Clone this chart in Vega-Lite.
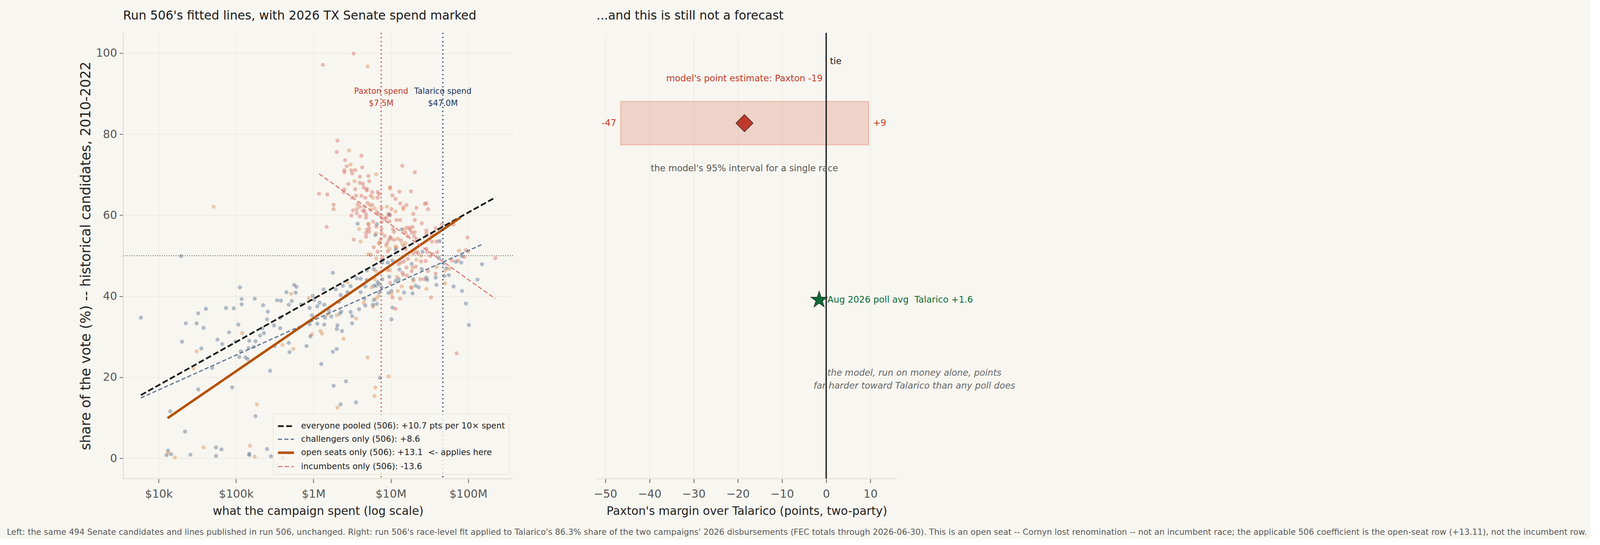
{
"$schema":"https://vega.github.io/schema/vega-lite/v6.json",
"background":"#f8f6f0",
"padding":{"left":17,"top":24,"right":8,"bottom":5},
"spacing":204,
"resolve":{"scale":{"color":"independent","fill":"independent","stroke":"independent","strokeDash":"independent","strokeWidth":"independent"},"legend":{"color":"independent","fill":"independent","stroke":"independent","strokeDash":"independent","strokeWidth":"independent"}},
"title":{"text":"Left: the same 494 Senate candidates and lines published in run 506, unchanged. Right: run 506's race-level fit applied to Talarico's 86.3% share of the two campaigns' 2026 disbursements (FEC totals through 2026-06-30). This is an open seat -- Cornyn lost renomination -- not an incumbent race; the applicable 506 coefficient is the open-seat row (+13.11), not the incumbent row.","orient":"bottom","anchor":"start","frame":"bounds","fontSize":21.1,"fontWeight":"normal","color":"#5a5a5a","dx":-185,"offset":29},
"datasets":{
"points":[
{"spend":1.95e4,"share":49.9,"group":"challenger"},
{"spend":5.89e3,"share":34.7,"group":"challenger"},
{"spend":2.24e4,"share":33.3,"group":"challenger"},
{"spend":3.24e4,"share":35.8,"group":"challenger"},
{"spend":4.07e4,"share":36.9,"group":"challenger"},
{"spend":3.09e4,"share":33.3,"group":"challenger"},
{"spend":3.8e4,"share":32.2,"group":"challenger"},
{"spend":2.0e4,"share":28.8,"group":"challenger"},
{"spend":3.09e4,"share":26.4,"group":"open seat"},
{"spend":3.55e4,"share":27.1,"group":"challenger"},
{"spend":2.82e4,"share":22.2,"group":"open seat"},
{"spend":4.9e4,"share":22.3,"group":"challenger"},
{"spend":3.24e4,"share":17.0,"group":"challenger"},
{"spend":1.41e4,"share":11.6,"group":"challenger"},
{"spend":2.19e4,"share":6.6,"group":"challenger"},
{"spend":1.32e4,"share":1.9,"group":"challenger"},
{"spend":1.26e4,"share":0.8,"group":"challenger"},
{"spend":1.32e4,"share":1.3,"group":"open seat"},
{"spend":1.45e4,"share":1.0,"group":"challenger"},
{"spend":1.62e4,"share":0.2,"group":"open seat"},
{"spend":2.57e4,"share":0.9,"group":"challenger"},
{"spend":3.8e4,"share":2.7,"group":"open seat"},
{"spend":5.5e4,"share":2.7,"group":"challenger"},
{"spend":6.46e4,"share":2.2,"group":"challenger"},
{"spend":5.5e4,"share":0.6,"group":"challenger"},
{"spend":1.48e5,"share":0.8,"group":"challenger"},
{"spend":1.48e5,"share":1.1,"group":"challenger"},
{"spend":1.51e5,"share":3.1,"group":"open seat"},
{"spend":1.74e5,"share":0.4,"group":"open seat"},
{"spend":1.78e5,"share":10.4,"group":"challenger"},
{"spend":1.86e5,"share":13.3,"group":"open seat"},
{"spend":8.91e4,"share":17.5,"group":"challenger"},
{"spend":5.75e4,"share":29.3,"group":"challenger"},
{"spend":6.61e4,"share":28.2,"group":"challenger"},
{"spend":7.41e4,"share":37.1,"group":"challenger"},
{"spend":9.33e4,"share":37.0,"group":"challenger"},
{"spend":8.13e4,"share":31.1,"group":"challenger"},
{"spend":1.07e5,"share":33.0,"group":"challenger"},
{"spend":1.12e5,"share":42.2,"group":"challenger"},
{"spend":1.18e5,"share":39.3,"group":"challenger"},
{"spend":1.18e5,"share":38.0,"group":"challenger"},
{"spend":1.74e5,"share":39.4,"group":"challenger"},
{"spend":1.2e5,"share":30.9,"group":"open seat"},
{"spend":9.77e4,"share":28.8,"group":"challenger"},
{"spend":1.48e5,"share":29.0,"group":"challenger"},
{"spend":1.78e5,"share":28.9,"group":"challenger"},
{"spend":1.15e5,"share":26.4,"group":"challenger"},
{"spend":1.45e5,"share":27.2,"group":"challenger"},
{"spend":1.7e5,"share":27.5,"group":"challenger"},
{"spend":1.1e5,"share":25.0,"group":"challenger"},
{"spend":1.32e5,"share":24.9,"group":"challenger"},
{"spend":1.41e5,"share":24.5,"group":"challenger"},
{"spend":5.13e4,"share":62.1,"group":"open seat"},
{"spend":1.32e6,"share":97.1,"group":"incumbent"},
{"spend":3.31e6,"share":99.9,"group":"incumbent"},
{"spend":5.01e6,"share":96.7,"group":"open seat"},
{"spend":1.48e6,"share":57.1,"group":"incumbent"},
{"spend":1.78e6,"share":45.8,"group":"challenger"},
{"spend":5.62e5,"share":42.8,"group":"challenger"},
{"spend":6.03e5,"share":42.3,"group":"challenger"},
{"spend":4.47e5,"share":41.0,"group":"challenger"},
{"spend":5.13e5,"share":40.6,"group":"open seat"},
{"spend":5.89e5,"share":40.9,"group":"challenger"},
{"spend":3.39e5,"share":39.0,"group":"challenger"},
{"spend":3.8e5,"share":38.9,"group":"challenger"},
{"spend":5.25e5,"share":38.8,"group":"challenger"},
{"spend":4.79e5,"share":37.9,"group":"challenger"},
{"spend":2.24e5,"share":37.8,"group":"challenger"},
{"spend":2.57e5,"share":36.2,"group":"challenger"},
{"spend":2.51e5,"share":34.3,"group":"challenger"},
{"spend":3.72e5,"share":34.7,"group":"challenger"},
{"spend":3.09e5,"share":32.8,"group":"challenger"},
{"spend":3.72e5,"share":32.1,"group":"challenger"},
{"spend":2.19e5,"share":32.1,"group":"challenger"},
{"spend":2.29e5,"share":30.9,"group":"challenger"},
{"spend":2.04e5,"share":30.3,"group":"challenger"},
{"spend":3.98e5,"share":28.0,"group":"open seat"},
{"spend":3.16e5,"share":27.7,"group":"challenger"},
{"spend":4.79e5,"share":28.5,"group":"challenger"},
{"spend":5.5e5,"share":27.0,"group":"open seat"},
{"spend":4.9e5,"share":26.2,"group":"challenger"},
{"spend":2.75e5,"share":21.6,"group":"challenger"},
{"spend":2.51e5,"share":2.3,"group":"challenger"},
{"spend":2.82e5,"share":0.5,"group":"challenger"},
{"spend":8.71e5,"share":39.5,"group":"open seat"},
{"spend":9.77e5,"share":40.1,"group":"challenger"},
{"spend":1.02e6,"share":39.1,"group":"challenger"},
{"spend":1.35e6,"share":41.7,"group":"challenger"},
{"spend":1.12e6,"share":37.5,"group":"challenger"},
{"spend":1.2e6,"share":38.4,"group":"challenger"},
{"spend":1.38e6,"share":37.9,"group":"challenger"},
{"spend":8.91e5,"share":37.1,"group":"challenger"},
{"spend":6.92e5,"share":38.0,"group":"challenger"},
{"spend":9.55e5,"share":35.3,"group":"challenger"},
{"spend":8.91e5,"share":33.1,"group":"challenger"},
{"spend":1.12e6,"share":33.2,"group":"challenger"},
{"spend":1.38e6,"share":33.0,"group":"challenger"},
{"spend":1.41e6,"share":34.7,"group":"challenger"},
{"spend":1.59e6,"share":36.4,"group":"challenger"},
{"spend":1.51e6,"share":35.5,"group":"open seat"},
{"spend":1.7e6,"share":35.0,"group":"challenger"},
{"spend":2.0e6,"share":35.3,"group":"open seat"},
{"spend":2.19e6,"share":35.7,"group":"challenger"},
{"spend":2.29e6,"share":36.2,"group":"challenger"},
{"spend":2.14e6,"share":38.6,"group":"challenger"},
{"spend":2.24e6,"share":40.3,"group":"challenger"},
{"spend":1.95e6,"share":41.7,"group":"challenger"},
{"spend":2.4e6,"share":42.6,"group":"challenger"},
{"spend":2.75e6,"share":43.4,"group":"open seat"},
{"spend":2.57e6,"share":40.0,"group":"open seat"},
{"spend":2.75e6,"share":41.0,"group":"challenger"},
{"spend":9.55e5,"share":30.6,"group":"open seat"},
{"spend":9.12e5,"share":30.1,"group":"challenger"},
{"spend":1.23e6,"share":31.4,"group":"open seat"},
{"spend":1.29e6,"share":30.8,"group":"open seat"},
{"spend":8.13e5,"share":27.7,"group":"challenger"},
{"spend":2.04e6,"share":32.8,"group":"challenger"},
{"spend":2.0e6,"share":31.9,"group":"challenger"},
{"spend":2.34e6,"share":31.4,"group":"challenger"},
{"spend":2.46e6,"share":29.5,"group":"open seat"},
{"spend":1.78e6,"share":26.3,"group":"challenger"},
{"spend":2.0e6,"share":27.0,"group":"challenger"},
{"spend":1.26e6,"share":23.3,"group":"challenger"},
{"spend":1.82e6,"share":17.9,"group":"challenger"},
{"spend":2.63e6,"share":19.0,"group":"challenger"},
{"spend":2.24e6,"share":13.3,"group":"challenger"},
{"spend":2.04e6,"share":12.5,"group":"open seat"},
{"spend":8.13e5,"share":4.7,"group":"challenger"},
{"spend":3.98e5,"share":0.1,"group":"challenger"},
{"spend":1.18e6,"share":65.3,"group":"incumbent"},
{"spend":1.51e6,"share":65.1,"group":"incumbent"},
{"spend":1.82e6,"share":62.6,"group":"incumbent"},
{"spend":1.82e6,"share":61.5,"group":"incumbent"},
{"spend":2.04e6,"share":78.4,"group":"incumbent"},
{"spend":2.0e6,"share":75.6,"group":"incumbent"},
{"spend":2.88e6,"share":76.0,"group":"open seat"},
{"spend":4.17e6,"share":74.7,"group":"incumbent"},
{"spend":2.57e6,"share":73.6,"group":"incumbent"},
{"spend":2.69e6,"share":72.1,"group":"incumbent"},
{"spend":3.02e6,"share":72.5,"group":"open seat"},
{"spend":2.51e6,"share":71.1,"group":"incumbent"},
{"spend":2.51e6,"share":70.6,"group":"incumbent"},
{"spend":3.09e6,"share":71.1,"group":"incumbent"},
{"spend":3.47e6,"share":71.1,"group":"incumbent"},
{"spend":3.16e6,"share":70.3,"group":"incumbent"},
{"spend":4.27e6,"share":71.8,"group":"incumbent"},
{"spend":3.98e6,"share":69.5,"group":"incumbent"},
{"spend":5.13e6,"share":69.7,"group":"incumbent"},
{"spend":5.25e6,"share":68.4,"group":"incumbent"},
{"spend":6.46e6,"share":70.1,"group":"open seat"},
{"spend":3.39e6,"share":68.4,"group":"open seat"},
{"spend":3.98e6,"share":68.0,"group":"incumbent"},
{"spend":4.37e6,"share":67.7,"group":"incumbent"},
{"spend":2.82e6,"share":67.7,"group":"incumbent"},
{"spend":4.47e6,"share":66.8,"group":"incumbent"},
{"spend":4.9e6,"share":66.5,"group":"incumbent"},
{"spend":4.9e6,"share":66.1,"group":"incumbent"},
{"spend":2.51e6,"share":66.4,"group":"incumbent"},
{"spend":2.46e6,"share":65.7,"group":"incumbent"},
{"spend":3.47e6,"share":66.4,"group":"incumbent"},
{"spend":5.75e6,"share":65.7,"group":"incumbent"},
{"spend":6.76e6,"share":65.7,"group":"incumbent"},
{"spend":7.08e6,"share":65.2,"group":"incumbent"},
{"spend":5.5e6,"share":64.8,"group":"incumbent"},
{"spend":5.89e6,"share":64.3,"group":"open seat"},
{"spend":6.76e6,"share":64.3,"group":"incumbent"},
{"spend":3.55e6,"share":64.8,"group":"incumbent"},
{"spend":3.16e6,"share":64.3,"group":"incumbent"},
{"spend":4.17e6,"share":64.8,"group":"incumbent"},
{"spend":4.68e6,"share":64.3,"group":"incumbent"},
{"spend":3.72e6,"share":62.7,"group":"incumbent"},
{"spend":3.98e6,"share":62.1,"group":"incumbent"},
{"spend":5.01e6,"share":63.0,"group":"incumbent"},
{"spend":5.37e6,"share":62.5,"group":"open seat"},
{"spend":5.75e6,"share":62.5,"group":"incumbent"},
{"spend":6.17e6,"share":61.7,"group":"open seat"},
{"spend":4.57e6,"share":62.1,"group":"incumbent"},
{"spend":3.24e6,"share":61.2,"group":"incumbent"},
{"spend":3.63e6,"share":61.5,"group":"incumbent"},
{"spend":3.63e6,"share":60.5,"group":"incumbent"},
{"spend":3.09e6,"share":59.9,"group":"incumbent"},
{"spend":3.98e6,"share":59.7,"group":"incumbent"},
{"spend":4.37e6,"share":61.1,"group":"incumbent"},
{"spend":4.57e6,"share":61.0,"group":"incumbent"},
{"spend":4.79e6,"share":60.2,"group":"incumbent"},
{"spend":4.79e6,"share":59.4,"group":"incumbent"},
{"spend":5.5e6,"share":61.4,"group":"incumbent"},
{"spend":6.61e6,"share":60.8,"group":"incumbent"},
{"spend":6.92e6,"share":60.3,"group":"incumbent"},
{"spend":7.59e6,"share":61.8,"group":"incumbent"},
{"spend":7.59e6,"share":59.9,"group":"incumbent"},
{"spend":8.91e6,"share":62.1,"group":"open seat"},
{"spend":1.02e7,"share":61.5,"group":"incumbent"},
{"spend":9.77e6,"share":66.9,"group":"incumbent"},
{"spend":9.77e6,"share":66.6,"group":"open seat"},
{"spend":1.05e7,"share":64.9,"group":"incumbent"},
{"spend":1.29e7,"share":65.8,"group":"incumbent"},
{"spend":1.82e7,"share":65.9,"group":"incumbent"},
{"spend":1.41e7,"share":72.2,"group":"incumbent"},
{"spend":2.04e7,"share":70.6,"group":"incumbent"},
{"spend":1.15e7,"share":64.0,"group":"incumbent"},
{"spend":1.32e7,"share":62.9,"group":"incumbent"},
{"spend":1.59e7,"share":62.5,"group":"incumbent"},
{"spend":1.45e7,"share":61.9,"group":"incumbent"},
{"spend":1.45e7,"share":61.5,"group":"open seat"},
{"spend":2.14e7,"share":61.8,"group":"incumbent"},
{"spend":1.15e7,"share":60.9,"group":"open seat"},
{"spend":1.95e7,"share":60.3,"group":"incumbent"},
{"spend":2.04e7,"share":58.8,"group":"incumbent"},
{"spend":2.51e7,"share":58.0,"group":"incumbent"},
{"spend":2.75e7,"share":62.8,"group":"incumbent"},
{"spend":9.33e6,"share":60.3,"group":"incumbent"},
{"spend":9.55e6,"share":60.1,"group":"challenger"},
{"spend":9.77e6,"share":60.0,"group":"incumbent"},
{"spend":9.55e6,"share":58.5,"group":"incumbent"},
{"spend":8.71e6,"share":59.4,"group":"incumbent"},
{"spend":8.32e6,"share":59.1,"group":"incumbent"},
{"spend":1.18e7,"share":58.8,"group":"incumbent"},
{"spend":1.32e7,"share":58.8,"group":"incumbent"},
{"spend":7.59e6,"share":58.3,"group":"incumbent"},
{"spend":5.89e6,"share":58.4,"group":"incumbent"},
{"spend":6.61e6,"share":57.8,"group":"challenger"},
{"spend":6.46e6,"share":57.2,"group":"incumbent"},
{"spend":5.13e6,"share":57.7,"group":"incumbent"},
{"spend":5.13e6,"share":57.9,"group":"open seat"},
{"spend":5.25e6,"share":56.8,"group":"incumbent"},
{"spend":4.9e6,"share":56.4,"group":"incumbent"},
{"spend":5.25e6,"share":55.9,"group":"incumbent"},
{"spend":4.79e6,"share":55.6,"group":"incumbent"},
{"spend":4.79e6,"share":54.7,"group":"incumbent"},
{"spend":3.72e6,"share":57.9,"group":"challenger"},
{"spend":3.89e6,"share":56.6,"group":"open seat"},
{"spend":3.31e6,"share":54.0,"group":"incumbent"},
{"spend":4.07e6,"share":53.5,"group":"open seat"},
{"spend":6.31e6,"share":55.1,"group":"challenger"},
{"spend":6.46e6,"share":55.5,"group":"open seat"},
{"spend":7.59e6,"share":56.7,"group":"incumbent"},
{"spend":7.59e6,"share":55.6,"group":"incumbent"},
{"spend":8.32e6,"share":54.9,"group":"incumbent"},
{"spend":7.41e6,"share":54.1,"group":"incumbent"},
{"spend":7.08e6,"share":53.2,"group":"incumbent"},
{"spend":7.08e6,"share":53.0,"group":"open seat"},
{"spend":8.91e6,"share":53.0,"group":"incumbent"},
{"spend":8.71e6,"share":52.5,"group":"open seat"},
{"spend":9.12e6,"share":51.1,"group":"incumbent"},
{"spend":9.55e6,"share":51.7,"group":"open seat"},
{"spend":9.77e6,"share":54.6,"group":"incumbent"},
{"spend":9.33e6,"share":53.8,"group":"incumbent"},
{"spend":1.0e7,"share":54.3,"group":"incumbent"},
{"spend":1.07e7,"share":56.6,"group":"incumbent"},
{"spend":1.1e7,"share":55.9,"group":"incumbent"},
{"spend":1.1e7,"share":53.9,"group":"incumbent"},
{"spend":1.23e7,"share":54.2,"group":"open seat"},
{"spend":1.35e7,"share":53.8,"group":"incumbent"},
{"spend":1.38e7,"share":56.5,"group":"challenger"},
{"spend":1.45e7,"share":56.4,"group":"open seat"},
{"spend":1.59e7,"share":56.9,"group":"incumbent"},
{"spend":1.74e7,"share":56.9,"group":"incumbent"},
{"spend":1.78e7,"share":56.4,"group":"incumbent"},
{"spend":1.91e7,"share":57.1,"group":"incumbent"},
{"spend":2.04e7,"share":55.8,"group":"incumbent"},
{"spend":1.86e7,"share":55.7,"group":"incumbent"},
{"spend":1.66e7,"share":54.8,"group":"incumbent"},
{"spend":2.0e7,"share":54.8,"group":"incumbent"},
{"spend":2.14e7,"share":54.1,"group":"incumbent"},
{"spend":1.55e7,"share":55.7,"group":"incumbent"},
{"spend":1.41e7,"share":52.9,"group":"open seat"},
{"spend":1.55e7,"share":53.1,"group":"open seat"},
{"spend":1.48e7,"share":52.3,"group":"incumbent"},
{"spend":1.55e7,"share":51.6,"group":"incumbent"},
{"spend":1.18e7,"share":52.0,"group":"incumbent"},
{"spend":1.15e7,"share":52.3,"group":"open seat"},
{"spend":1.15e7,"share":51.5,"group":"challenger"},
{"spend":6.03e6,"share":52.1,"group":"incumbent"},
{"spend":6.76e6,"share":51.0,"group":"incumbent"},
{"spend":5.13e6,"share":50.4,"group":"open seat"},
{"spend":5.5e6,"share":50.2,"group":"incumbent"},
{"spend":6.46e6,"share":49.3,"group":"open seat"},
{"spend":7.76e6,"share":49.5,"group":"incumbent"},
{"spend":7.76e6,"share":48.3,"group":"challenger"},
{"spend":9.12e6,"share":48.3,"group":"challenger"},
{"spend":1.05e7,"share":48.8,"group":"challenger"},
{"spend":6.03e6,"share":46.7,"group":"challenger"},
{"spend":6.46e6,"share":46.2,"group":"open seat"},
{"spend":4.9e6,"share":46.4,"group":"challenger"},
{"spend":9.12e6,"share":46.4,"group":"incumbent"},
{"spend":9.77e6,"share":46.4,"group":"open seat"},
{"spend":1.35e7,"share":48.3,"group":"incumbent"},
{"spend":1.26e7,"share":47.9,"group":"incumbent"},
{"spend":1.48e7,"share":48.6,"group":"incumbent"},
{"spend":1.66e7,"share":49.2,"group":"incumbent"},
{"spend":1.86e7,"share":48.0,"group":"challenger"},
{"spend":1.91e7,"share":47.1,"group":"open seat"},
{"spend":1.59e7,"share":47.1,"group":"incumbent"},
{"spend":1.29e7,"share":46.6,"group":"challenger"},
{"spend":1.41e7,"share":45.8,"group":"incumbent"},
{"spend":2.14e7,"share":49.0,"group":"open seat"},
{"spend":2.46e7,"share":48.6,"group":"incumbent"},
{"spend":2.24e7,"share":50.6,"group":"incumbent"},
{"spend":2.57e7,"share":51.0,"group":"challenger"},
{"spend":2.46e7,"share":50.0,"group":"open seat"},
{"spend":2.51e7,"share":46.7,"group":"challenger"},
{"spend":1.86e7,"share":46.2,"group":"incumbent"},
{"spend":2.09e7,"share":47.3,"group":"incumbent"},
{"spend":1.95e7,"share":50.6,"group":"incumbent"},
{"spend":2.14e7,"share":51.0,"group":"incumbent"},
{"spend":3.63e6,"share":44.4,"group":"challenger"},
{"spend":4.07e6,"share":44.3,"group":"challenger"},
{"spend":3.02e6,"share":42.5,"group":"challenger"},
{"spend":4.07e6,"share":41.0,"group":"challenger"},
{"spend":4.68e6,"share":42.4,"group":"challenger"},
{"spend":4.9e6,"share":44.0,"group":"challenger"},
{"spend":5.62e6,"share":42.2,"group":"open seat"},
{"spend":6.03e6,"share":42.6,"group":"challenger"},
{"spend":6.17e6,"share":44.2,"group":"open seat"},
{"spend":6.46e6,"share":42.6,"group":"challenger"},
{"spend":6.76e6,"share":43.5,"group":"challenger"},
{"spend":7.08e6,"share":43.0,"group":"challenger"},
{"spend":7.76e6,"share":44.2,"group":"challenger"},
{"spend":7.59e6,"share":42.2,"group":"challenger"},
{"spend":7.08e6,"share":40.9,"group":"challenger"},
{"spend":6.92e6,"share":40.0,"group":"open seat"},
{"spend":6.46e6,"share":39.4,"group":"open seat"},
{"spend":6.03e6,"share":39.1,"group":"challenger"},
{"spend":6.61e6,"share":38.1,"group":"challenger"},
{"spend":5.89e6,"share":37.4,"group":"open seat"},
{"spend":5.89e6,"share":37.9,"group":"challenger"},
{"spend":4.47e6,"share":38.4,"group":"open seat"},
{"spend":4.57e6,"share":39.4,"group":"challenger"},
{"spend":4.68e6,"share":37.7,"group":"challenger"},
{"spend":3.89e6,"share":36.8,"group":"challenger"},
{"spend":3.02e6,"share":36.1,"group":"challenger"},
{"spend":3.16e6,"share":35.1,"group":"challenger"},
{"spend":3.55e6,"share":34.5,"group":"open seat"},
{"spend":3.16e6,"share":33.3,"group":"challenger"},
{"spend":5.01e6,"share":24.9,"group":"open seat"},
{"spend":7.24e6,"share":19.9,"group":"challenger"},
{"spend":9.33e6,"share":20.2,"group":"open seat"},
{"spend":6.31e6,"share":17.5,"group":"open seat"},
{"spend":6.17e6,"share":15.4,"group":"open seat"},
{"spend":3.55e6,"share":13.8,"group":"challenger"},
{"spend":9.55e6,"share":44.8,"group":"challenger"},
{"spend":9.77e6,"share":43.3,"group":"incumbent"},
{"spend":9.33e6,"share":40.8,"group":"challenger"},
{"spend":1.02e7,"share":41.3,"group":"challenger"},
{"spend":1.02e7,"share":40.6,"group":"open seat"},
{"spend":1.05e7,"share":39.7,"group":"incumbent"},
{"spend":1.05e7,"share":37.2,"group":"challenger"},
{"spend":1.15e7,"share":36.9,"group":"incumbent"},
{"spend":1.02e7,"share":34.3,"group":"challenger"},
{"spend":1.15e7,"share":43.8,"group":"challenger"},
{"spend":1.2e7,"share":44.8,"group":"open seat"},
{"spend":1.26e7,"share":44.2,"group":"challenger"},
{"spend":1.23e7,"share":41.3,"group":"open seat"},
{"spend":1.38e7,"share":42.4,"group":"open seat"},
{"spend":1.48e7,"share":40.9,"group":"challenger"},
{"spend":1.32e7,"share":39.4,"group":"incumbent"},
{"spend":1.45e7,"share":45.3,"group":"incumbent"},
{"spend":1.62e7,"share":45.1,"group":"incumbent"},
{"spend":1.82e7,"share":42.2,"group":"open seat"},
{"spend":1.86e7,"share":42.1,"group":"incumbent"},
{"spend":1.91e7,"share":40.7,"group":"challenger"},
{"spend":1.95e7,"share":44.2,"group":"challenger"},
{"spend":1.95e7,"share":43.8,"group":"open seat"},
{"spend":2.09e7,"share":42.6,"group":"challenger"},
{"spend":2.29e7,"share":42.2,"group":"challenger"},
{"spend":2.4e7,"share":44.2,"group":"incumbent"},
{"spend":2.69e7,"share":44.2,"group":"incumbent"},
{"spend":2.88e7,"share":62.9,"group":"incumbent"},
{"spend":3.02e7,"share":61.5,"group":"incumbent"},
{"spend":4.57e7,"share":57.7,"group":"incumbent"},
{"spend":6.46e7,"share":57.7,"group":"incumbent"},
{"spend":3.8e7,"share":56.8,"group":"incumbent"},
{"spend":2.88e7,"share":56.2,"group":"incumbent"},
{"spend":2.88e7,"share":55.4,"group":"incumbent"},
{"spend":3.39e7,"share":55.1,"group":"incumbent"},
{"spend":3.39e7,"share":53.5,"group":"incumbent"},
{"spend":3.89e7,"share":53.5,"group":"incumbent"},
{"spend":4.27e7,"share":53.6,"group":"challenger"},
{"spend":9.77e7,"share":54.5,"group":"incumbent"},
{"spend":2.88e7,"share":51.7,"group":"incumbent"},
{"spend":2.95e7,"share":50.9,"group":"incumbent"},
{"spend":3.47e7,"share":50.4,"group":"incumbent"},
{"spend":3.24e7,"share":49.9,"group":"incumbent"},
{"spend":3.98e7,"share":50.9,"group":"incumbent"},
{"spend":7.59e7,"share":51.2,"group":"open seat"},
{"spend":9.33e7,"share":51.4,"group":"incumbent"},
{"spend":1.0e8,"share":51.1,"group":"incumbent"},
{"spend":8.32e7,"share":49.9,"group":"challenger"},
{"spend":8.91e7,"share":49.7,"group":"incumbent"},
{"spend":2.24e8,"share":49.4,"group":"incumbent"},
{"spend":4.17e7,"share":49.4,"group":"challenger"},
{"spend":2.82e7,"share":48.7,"group":"incumbent"},
{"spend":6.17e7,"share":48.8,"group":"incumbent"},
{"spend":6.92e7,"share":48.5,"group":"challenger"},
{"spend":7.41e7,"share":48.8,"group":"incumbent"},
{"spend":8.13e7,"share":48.3,"group":"challenger"},
{"spend":1.51e8,"share":47.9,"group":"challenger"},
{"spend":4.79e7,"share":48.1,"group":"challenger"},
{"spend":3.89e7,"share":47.2,"group":"open seat"},
{"spend":5.25e7,"share":46.9,"group":"challenger"},
{"spend":5.75e7,"share":46.8,"group":"open seat"},
{"spend":5.01e7,"share":46.3,"group":"open seat"},
{"spend":3.02e7,"share":46.2,"group":"incumbent"},
{"spend":3.8e7,"share":45.6,"group":"incumbent"},
{"spend":2.88e7,"share":44.6,"group":"challenger"},
{"spend":2.95e7,"share":44.0,"group":"challenger"},
{"spend":3.8e7,"share":44.6,"group":"challenger"},
{"spend":4.9e7,"share":45.0,"group":"challenger"},
{"spend":5.62e7,"share":45.2,"group":"challenger"},
{"spend":5.01e7,"share":43.2,"group":"open seat"},
{"spend":3.89e7,"share":42.8,"group":"challenger"},
{"spend":2.88e7,"share":41.8,"group":"open seat"},
{"spend":6.46e7,"share":42.4,"group":"challenger"},
{"spend":1.32e8,"share":44.1,"group":"challenger"},
{"spend":8.32e7,"share":41.3,"group":"challenger"},
{"spend":3.31e7,"share":39.7,"group":"incumbent"},
{"spend":9.33e7,"share":38.2,"group":"challenger"},
{"spend":1.02e8,"share":32.9,"group":"challenger"},
{"spend":7.08e7,"share":25.9,"group":"incumbent"}
],
"fits":[
{"fit":"everyone pooled (506): +10.7 pts per 10× spent","spend":5888,"share":15.6},
{"fit":"everyone pooled (506): +10.7 pts per 10× spent","spend":2.249e8,"share":64.4},
{"fit":"challengers only (506): +8.6","spend":5888,"share":14.9},
{"fit":"challengers only (506): +8.6","spend":1.524e8,"share":52.8},
{"fit":"open seats only (506): +13.1\u00a0 <- applies here","spend":13002,"share":9.9},
{"fit":"open seats only (506): +13.1\u00a0 <- applies here","spend":7.907e7,"share":59.4},
{"fit":"incumbents only (506): -13.6","spend":1.183e6,"share":70.2},
{"fit":"incumbents only (506): -13.6","spend":2.234e8,"share":39.4}
],
"spendLines":[
{"who":"Paxton","spend":7.5e6,"share":89,"text":"Paxton spend\n$7.5M"},
{"who":"Talarico","spend":4.7e7,"share":89,"text":"Talarico spend\n$47.0M"}
],
"model":[{"margin":-18.5,"pos":1,"label":"model's point estimate: Paxton -19","note":"the model's 95% interval for a single race","lo":-46.5,"hi":9.6,"lo_label":"-47","hi_label":"+9"}],
"poll":[{"margin":-1.6,"pos":0,"label":"Aug 2026 poll avg\u00a0 Talarico +1.6","note":"the model, run on money alone, points\nfar harder toward Talarico than any poll does"}],
"tie":[{"margin":0,"pos":1,"label":"tie"}]
},
"hconcat":[
{
"width":998,"height":1140,
"title":{"text":"Run 506's fitted lines, with 2026 TX Senate spend marked","anchor":"start","frame":"group","fontSize":31.1,"fontWeight":"normal","color":"#1a1a1a","baseline":"alphabetic","offset":1.5},
"layer":[
{"data":{"name":"points"},
"mark":{"type":"circle","size":109,"opacity":0.42},
"encoding":{
"x":{"field":"spend","type":"quantitative","scale":{"type":"log","domain":[3460,3.78e8],"nice":false},
"axis":{"title":"what the campaign spent (log scale)","values":[1e4,1e5,1e6,1e7,1e8],"labelExpr":"datum.value >= 1e6 ? '$' + format(datum.value/1e6,'d') + 'M' : '$' + format(datum.value/1e3,'d') + 'k'","grid":true,"tickSize":11,"titlePadding":16,"labelPadding":14}},
"y":{"field":"share","type":"quantitative","scale":{"domain":[-5,105],"nice":false,"zero":false},
"axis":{"title":"share of the vote (%) -- historical candidates, 2010-2022","values":[0,20,40,60,80,100],"grid":true,"titleFontSize":35,"titlePadding":7.5}},
"fill":{"field":"group","type":"nominal","scale":{"domain":["challenger","open seat","incumbent","Paxton","Talarico"],"range":["#4f6a8c","#d98a4c","#d4675c","#c0392b","#1b3461"]},"legend":null}
}},
{"data":{"values":[{"share":50}]},
"mark":{"type":"rule","color":"#555555","strokeWidth":2.2,"strokeDash":[2,3.9]},
"encoding":{"y":{"field":"share","type":"quantitative","scale":{"domain":[-5,105],"nice":false,"zero":false}}}},
{"data":{"name":"fits"},
"mark":{"type":"line"},
"encoding":{
"x":{"field":"spend","type":"quantitative","scale":{"type":"log","domain":[3460,3.78e8],"nice":false}},
"y":{"field":"share","type":"quantitative","scale":{"domain":[-5,105],"nice":false,"zero":false}},
"color":{"field":"fit","type":"nominal",
"scale":{"domain":["everyone pooled (506): +10.7 pts per 10× spent","challengers only (506): +8.6","open seats only (506): +13.1\u00a0 <- applies here","incumbents only (506): -13.6"],"range":["#1a1a1a","#5f7594","#b5520a","#d9837a"]},
"legend":{"title":null,"orient":"bottom-right","offset":11,"padding":9,"fillColor":"rgba(248,246,240,0.8)","strokeColor":"#dcd8c9","cornerRadius":5,"symbolType":"stroke","symbolSize":1674,"labelFontSize":21.3,"labelColor":"#222222","labelLimit":0,"rowPadding":-2,"labelOffset":14.7}},
"strokeDash":{"field":"fit","type":"nominal","scale":{"domain":["everyone pooled (506): +10.7 pts per 10× spent","challengers only (506): +8.6","open seats only (506): +13.1\u00a0 <- applies here","incumbents only (506): -13.6"],"range":[[14.7,6.5],[10.6,5.7],[1,0],[11.5,5.7]]}},
"strokeWidth":{"field":"fit","type":"nominal","scale":{"type":"ordinal","domain":["everyone pooled (506): +10.7 pts per 10× spent","challengers only (506): +8.6","open seats only (506): +13.1\u00a0 <- applies here","incumbents only (506): -13.6"],"range":[4.5,3.1,6.3,3.1]}}
}},
{"data":{"name":"spendLines"},
"mark":{"type":"rule","strokeWidth":3,"strokeDash":[3,7.5]},
"encoding":{
"x":{"field":"spend","type":"quantitative","scale":{"type":"log","domain":[3460,3.78e8],"nice":false}},
"stroke":{"field":"who","type":"nominal","scale":{"domain":["Paxton","Talarico"],"range":["#c0392b","#1b3461"]},"legend":null}
}},
{"data":{"name":"spendLines"},
"mark":{"type":"text","fontSize":20.5,"align":"center","baseline":"middle","lineBreak":"\n","lineHeight":31,"dy":-15.5},
"encoding":{
"x":{"field":"spend","type":"quantitative","scale":{"type":"log","domain":[3460,3.78e8],"nice":false}},
"y":{"field":"share","type":"quantitative","scale":{"domain":[-5,105],"nice":false,"zero":false}},
"text":{"field":"text"},
"fill":{"field":"who","type":"nominal","scale":{"domain":["challenger","open seat","incumbent","Paxton","Talarico"],"range":["#4f6a8c","#d98a4c","#d4675c","#c0392b","#1b3461"]},"legend":null}
}}
]
},
{
"width":769,"height":1140,
"title":{"text":"...and this is still not a forecast","anchor":"start","frame":"group","fontSize":31.1,"fontWeight":"normal","color":"#1a1a1a","baseline":"alphabetic","offset":1.5},
"layer":[
{"data":{"name":"model"},
"mark":{"type":"bar","orient":"horizontal","size":111,"fill":"#d9826e","fillOpacity":0.3,"stroke":"#d9826e","strokeOpacity":0.45,"strokeWidth":2.7},
"encoding":{
"x":{"field":"lo","type":"quantitative","scale":{"domain":[-52,16],"nice":false,"zero":false},"axis":{"title":"Paxton's margin over Talarico (points, two-party)","values":[-50,-40,-30,-20,-10,0,10],"grid":true,"tickSize":11,"titlePadding":16,"labelPadding":14}},
"x2":{"field":"hi"},
"y":{"field":"pos","type":"quantitative","scale":{"domain":[-1,1.5],"nice":false,"zero":false},"axis":null}
}},
{"data":{"name":"tie"},
"mark":{"type":"rule","color":"#1a1a1a","strokeWidth":3.3},
"encoding":{"x":{"field":"margin","type":"quantitative","scale":{"domain":[-52,16],"nice":false,"zero":false}}}},
{"data":{"name":"model"},
"mark":{"type":"point","shape":"diamond","filled":true,"color":"#c0392b","stroke":"#222222","strokeWidth":1.3,"size":1936,"opacity":1},
"encoding":{
"x":{"field":"margin","type":"quantitative","scale":{"domain":[-52,16],"nice":false,"zero":false}},
"y":{"field":"pos","type":"quantitative","scale":{"domain":[-1,1.5],"nice":false,"zero":false},"axis":null}
}},
{"data":{"name":"poll"},
"mark":{"type":"point","shape":"M0,-1L0.2245,-0.309L0.951,-0.309L0.363,0.118L0.588,0.809L0,0.382L-0.588,0.809L-0.363,0.118L-0.951,-0.309L-0.2245,-0.309Z","filled":true,"color":"#0b6b35","stroke":"#222222","strokeWidth":1.3,"size":2000,"opacity":1},
"encoding":{
"x":{"field":"margin","type":"quantitative","scale":{"domain":[-52,16],"nice":false,"zero":false}},
"y":{"field":"pos","type":"quantitative","scale":{"domain":[-1,1.5],"nice":false,"zero":false},"axis":null}
}},
{"data":{"name":"model"},
"mark":{"type":"text","fontSize":22.9,"align":"center","baseline":"middle","color":"#c0392b","dy":-114},
"encoding":{
"x":{"field":"margin","type":"quantitative","scale":{"domain":[-52,16],"nice":false,"zero":false}},
"y":{"field":"pos","type":"quantitative","scale":{"domain":[-1,1.5],"nice":false,"zero":false},"axis":null},
"text":{"field":"label"}
}},
{"data":{"name":"model"},
"mark":{"type":"text","fontSize":22.9,"align":"center","baseline":"middle","color":"#555555","dy":116},
"encoding":{
"x":{"field":"margin","type":"quantitative","scale":{"domain":[-52,16],"nice":false,"zero":false}},
"y":{"field":"pos","type":"quantitative","scale":{"domain":[-1,1.5],"nice":false,"zero":false},"axis":null},
"text":{"field":"note"}
}},
{"data":{"name":"model"},
"mark":{"type":"text","fontSize":22.9,"align":"right","baseline":"middle","color":"#c0392b","dx":-11.5},
"encoding":{
"x":{"field":"lo","type":"quantitative","scale":{"domain":[-52,16],"nice":false,"zero":false}},
"y":{"field":"pos","type":"quantitative","scale":{"domain":[-1,1.5],"nice":false,"zero":false},"axis":null},
"text":{"field":"lo_label"}
}},
{"data":{"name":"model"},
"mark":{"type":"text","fontSize":22.9,"align":"left","baseline":"middle","color":"#c0392b","dx":11.5},
"encoding":{
"x":{"field":"hi","type":"quantitative","scale":{"domain":[-52,16],"nice":false,"zero":false}},
"y":{"field":"pos","type":"quantitative","scale":{"domain":[-1,1.5],"nice":false,"zero":false},"axis":null},
"text":{"field":"hi_label"}
}},
{"data":{"name":"tie"},
"mark":{"type":"text","fontSize":22.9,"align":"left","baseline":"middle","color":"#1a1a1a","dx":9.8,"dy":-158},
"encoding":{
"x":{"field":"margin","type":"quantitative","scale":{"domain":[-52,16],"nice":false,"zero":false}},
"y":{"field":"pos","type":"quantitative","scale":{"domain":[-1,1.5],"nice":false,"zero":false},"axis":null},
"text":{"field":"label"}
}},
{"data":{"name":"poll"},
"mark":{"type":"text","fontSize":22.9,"align":"left","baseline":"middle","color":"#0b6b35","dx":21.3},
"encoding":{
"x":{"field":"margin","type":"quantitative","scale":{"domain":[-52,16],"nice":false,"zero":false}},
"y":{"field":"pos","type":"quantitative","scale":{"domain":[-1,1.5],"nice":false,"zero":false},"axis":null},
"text":{"field":"label"}
}},
{"data":{"name":"poll"},
"mark":{"type":"text","fontSize":22.9,"fontStyle":"italic","align":"center","baseline":"middle","color":"#666666","dx":243.9,"dy":187,"lineBreak":"\n","lineHeight":33},
"encoding":{
"x":{"field":"margin","type":"quantitative","scale":{"domain":[-52,16],"nice":false,"zero":false}},
"y":{"field":"pos","type":"quantitative","scale":{"domain":[-1,1.5],"nice":false,"zero":false},"axis":null},
"text":{"field":"note"}
}}
]
}
],
"config":{
"font":"DejaVu Sans",
"view":{"stroke":null},
"axis":{"labelFontSize":28.6,"titleFontSize":29.5,"labelColor":"#555555","titleColor":"#222222","titleFontWeight":"normal","gridColor":"#ece8df","gridWidth":1.3,"domainColor":"#dfdbcd","domainWidth":2.2,"tickColor":"#555555","tickWidth":1.8,"tickSize":9,"labelPadding":6.5},
"text":{"font":"DejaVu Sans"}
}
}
